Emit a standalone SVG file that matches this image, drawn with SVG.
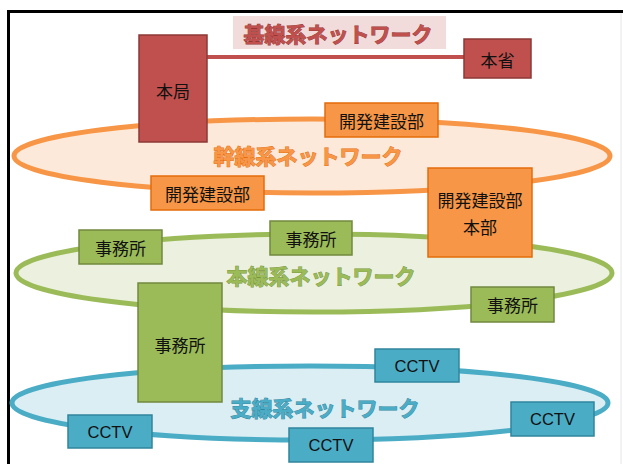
<svg xmlns="http://www.w3.org/2000/svg" width="623" height="464" viewBox="0 0 623 464">
<style>
.t{font-family:"Noto Sans CJK JP","Liberation Sans",sans-serif;font-size:17px;fill:#111;text-anchor:middle;dominant-baseline:central}
.c{font-family:"Liberation Sans",Arial,sans-serif;font-size:16.5px;fill:#111;text-anchor:middle;dominant-baseline:central}
.h{font-family:"Noto Sans CJK JP",sans-serif;font-size:21px;font-weight:bold;text-anchor:middle;dominant-baseline:central;stroke-width:0.9;paint-order:stroke}
.r{fill:#c0504d;stroke:#8c3836;stroke-width:1.5}
.o{fill:#f79646;stroke:#e46c0a;stroke-width:1.5}
.g{fill:#9bbb59;stroke:#71893f;stroke-width:1.5}
.b{fill:#4bacc6;stroke:#31859c;stroke-width:1.5}
.ring{stroke-width:5}
</style>
<rect width="623" height="464" fill="#fff"/>
<path d="M8.5,464 V11.5 H623" fill="none" stroke="#000" stroke-width="3"/>
<line x1="621" y1="13" x2="621" y2="464" stroke="#e6e6e6" stroke-width="1"/>

<g id="ring-kansen"><ellipse class="ring" cx="312" cy="156" rx="298" ry="37" fill="#fde9d9" stroke="#f79646"/></g>
<g id="ring-honsen"><ellipse class="ring" cx="314" cy="273" rx="298" ry="39" fill="#ebf1de" stroke="#9bbb59"/></g>
<g id="ring-shisen"><ellipse class="ring" cx="310" cy="403" rx="298" ry="37" fill="#dbeef4" stroke="#4bacc6"/></g>

<g id="title-kisen"><rect x="233" y="16" width="213" height="33" fill="#f2dcdb"/><text class="h" x="338" y="33" fill="#c0504d" stroke="#953735">基線系ネットワーク</text></g>
<g id="title-kansen"><text class="h" x="308" y="155" fill="#f79646" stroke="#e46c0a">幹線系ネットワーク</text></g>
<g id="title-honsen"><text class="h" x="321" y="275" fill="#9bbb59" stroke="#77933c">本線系ネットワーク</text></g>
<g id="title-shisen"><text class="h" x="325" y="407" fill="#4bacc6" stroke="#31859c">支線系ネットワーク</text></g>

<g id="connectors"><line x1="207" y1="57" x2="464" y2="57" stroke="#c0504d" stroke-width="4"/></g>

<g id="honkyoku"><rect class="r" x="139" y="35" width="68" height="107"/><text class="t" x="173" y="90">本局</text></g>
<g id="honsho"><rect class="r" x="464" y="39" width="67" height="39"/><text class="t" x="497.5" y="59">本省</text></g>

<g id="kaihatsu-top"><rect class="o" x="325" y="103" width="113" height="34"/><text class="t" x="381.5" y="120">開発建設部</text></g>
<g id="kaihatsu-left"><rect class="o" x="151" y="176" width="113" height="34"/><text class="t" x="207.5" y="193">開発建設部</text></g>
<g id="kaihatsu-honbu"><rect class="o" x="428" y="168" width="104" height="89"/><text class="t" x="480" y="199">開発建設部</text><text class="t" x="480" y="226">本部</text></g>

<g id="jimusho-left"><rect class="g" x="79" y="230" width="83" height="34"/><text class="t" x="120.5" y="247">事務所</text></g>
<g id="jimusho-mid"><rect class="g" x="270" y="221" width="82" height="34"/><text class="t" x="311" y="238">事務所</text></g>
<g id="jimusho-right"><rect class="g" x="471" y="287" width="83" height="35"/><text class="t" x="512.5" y="304.5">事務所</text></g>
<g id="jimusho-tall"><rect class="g" x="138" y="283" width="84" height="119"/><text class="t" x="180" y="344">事務所</text></g>

<g id="cctv-top"><rect class="b" x="375" y="349" width="84" height="33"/><text class="c" x="417" y="365.5">CCTV</text></g>
<g id="cctv-left"><rect class="b" x="68" y="415" width="84" height="33"/><text class="c" x="110" y="431.5">CCTV</text></g>
<g id="cctv-mid"><rect class="b" x="289" y="428" width="84" height="34"/><text class="c" x="331" y="445">CCTV</text></g>
<g id="cctv-right"><rect class="b" x="511" y="402" width="83" height="34"/><text class="c" x="552.5" y="419">CCTV</text></g>
</svg>
